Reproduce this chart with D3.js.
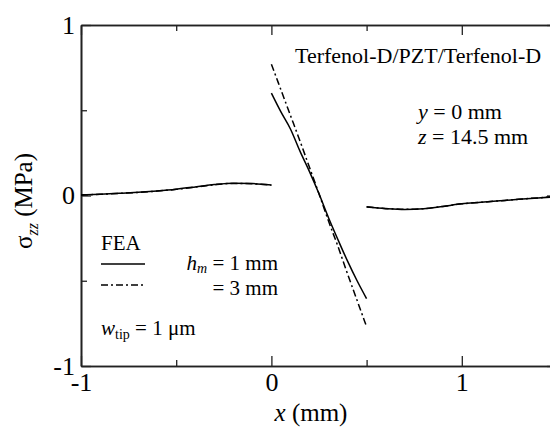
<!DOCTYPE html>
<html>
<head>
<meta charset="utf-8">
<script src="https://cdn.jsdelivr.net/npm/d3@7"></script>
<style>
  html, body { margin: 0; padding: 0; background: #fff; }
  svg { display: block; font-family: "Liberation Serif", "Times New Roman", serif; }
</style>
</head>
<body>
<svg id="chart" width="550" height="428"></svg>
<script>
// Stress sigma_zz along x for the Terfenol-D/PZT/Terfenol-D laminate (FEA)
// Three segments: left layer (-1..0), PZT (0..0.5), right layer (0.5..1.5)
const xLeft  = [-1, -0.9, -0.8, -0.7, -0.6, -0.5, -0.4, -0.3, -0.2, -0.1, 0];
const xMid   = [0, 0.05, 0.1, 0.15, 0.2, 0.25, 0.3, 0.35, 0.4, 0.45, 0.5];
const xRight = [0.5, 0.6, 0.7, 0.8, 0.9, 1.0, 1.1, 1.2, 1.3, 1.4, 1.5];

// h_m = 1 mm (solid)
const hm1Left  = [0.004, 0.008, 0.013, 0.019, 0.027, 0.037, 0.050, 0.064, 0.072, 0.070, 0.062];
const hm1Mid   = [0.60, 0.49, 0.39, 0.26, 0.14, 0.01, -0.13, -0.26, -0.385, -0.50, -0.605];
const hm1Right = [-0.068, -0.077, -0.082, -0.078, -0.064, -0.049, -0.040, -0.031, -0.022, -0.014, -0.007];

// h_m = 3 mm (dash-dot)
const hm3Left  = [0.002, 0.007, 0.012, 0.018, 0.026, 0.036, 0.049, 0.063, 0.071, 0.069, 0.060];
const hm3Mid   = [0.77, 0.62, 0.47, 0.32, 0.165, 0.01, -0.15, -0.30, -0.46, -0.615, -0.77];
const hm3Right = [-0.066, -0.076, -0.081, -0.077, -0.064, -0.049, -0.040, -0.031, -0.022, -0.014, -0.007];

const xMajor = [-1, 0, 1];
const xMinor = [-0.5, 0.5];
const yMajor = [-1, 0, 1];
const yMinor = [-0.5, 0.5];

const svg = d3.select("#chart");
const plotLeft = 81, plotTop = 25, plotBottom = 366, unit = 190.4;
const x = d3.scaleLinear().domain([-1, 1.5]).range([plotLeft, plotLeft + 2.5 * unit]);
const y = d3.scaleLinear().domain([-1, 1]).range([plotBottom, plotTop]);
const fmt = d => String(d);
const axisColor = "#222";

function styleAxis(g) {
  g.select(".domain").attr("stroke", axisColor).attr("stroke-width", 1.6);
  g.selectAll(".tick line").attr("stroke", axisColor).attr("stroke-width", 1.3);
  g.selectAll(".tick text").attr("fill", "#000").attr("font-size", 26)
    .attr("font-family", "Liberation Serif, Times New Roman, serif");
}

// bottom axis
svg.append("g").attr("transform", `translate(0,${plotBottom})`)
  .call(d3.axisBottom(x).tickValues(xMajor).tickFormat(fmt).tickSizeInner(-10).tickSizeOuter(0).tickPadding(7))
  .call(styleAxis);
svg.append("g").attr("transform", `translate(0,${plotBottom})`)
  .call(d3.axisBottom(x).tickValues(xMinor).tickFormat("").tickSizeInner(-6).tickSizeOuter(0))
  .call(styleAxis);
// top axis
svg.append("g").attr("transform", `translate(0,${plotTop})`)
  .call(d3.axisTop(x).tickValues(xMajor).tickFormat("").tickSizeInner(-10).tickSizeOuter(0))
  .call(styleAxis);
svg.append("g").attr("transform", `translate(0,${plotTop})`)
  .call(d3.axisTop(x).tickValues(xMinor).tickFormat("").tickSizeInner(-6).tickSizeOuter(0))
  .call(styleAxis);
// left axis
svg.append("g").attr("transform", `translate(${plotLeft},0)`)
  .call(d3.axisLeft(y).tickValues(yMajor).tickFormat(fmt).tickSizeInner(-10).tickSizeOuter(0).tickPadding(6))
  .call(styleAxis);
svg.append("g").attr("transform", `translate(${plotLeft},0)`)
  .call(d3.axisLeft(y).tickValues(yMinor).tickFormat("").tickSizeInner(-6).tickSizeOuter(0))
  .call(styleAxis);
// right axis
svg.append("g").attr("transform", `translate(${x(1.5)},0)`)
  .call(d3.axisRight(y).tickValues(yMajor).tickFormat("").tickSizeInner(-10).tickSizeOuter(0))
  .call(styleAxis);

// curves
const line = d3.line().x(d => x(d[0])).y(d => y(d[1])).curve(d3.curveMonotoneX);
const series = [
  { xs: xLeft, vs: hm3Left, dash: "7,3,2,3" },
  { xs: xMid, vs: hm3Mid, dash: "7,3,2,3" },
  { xs: xRight, vs: hm3Right, dash: "7,3,2,3" },
  { xs: xLeft, vs: hm1Left, dash: null },
  { xs: xMid, vs: hm1Mid, dash: null },
  { xs: xRight, vs: hm1Right, dash: null }
];
series.forEach(s => {
  svg.append("path")
    .datum(s.xs.map((v, i) => [v, s.vs[i]]))
    .attr("d", line)
    .attr("fill", "none")
    .attr("stroke", "#000")
    .attr("stroke-width", 1.5)
    .attr("stroke-dasharray", s.dash);
});

// axis titles
const xt = svg.append("text").attr("x", 311).attr("y", 421).attr("text-anchor", "middle")
  .attr("font-size", 25);
xt.append("tspan").attr("font-style", "italic").text("x");
xt.append("tspan").text(" (mm)");

const yt = svg.append("text").attr("transform", "translate(32,201) rotate(-90)")
  .attr("text-anchor", "middle").attr("font-size", 25);
yt.append("tspan").text("σ");
yt.append("tspan").attr("font-style", "italic").attr("font-size", 16).attr("dy", 6).text("zz");
yt.append("tspan").attr("dy", -6).text(" (MPa)");

// annotations
const ann = 22;
svg.append("text").attr("x", 295).attr("y", 63).attr("font-size", ann).text("Terfenol-D/PZT/Terfenol-D");
const t1 = svg.append("text").attr("x", 418).attr("y", 119).attr("font-size", ann);
t1.append("tspan").attr("font-style", "italic").text("y");
t1.append("tspan").text(" = 0 mm");
const t2 = svg.append("text").attr("x", 418).attr("y", 144).attr("font-size", ann);
t2.append("tspan").attr("font-style", "italic").text("z");
t2.append("tspan").text(" = 14.5 mm");

// legend
const leg = 21;
svg.append("text").attr("x", 101).attr("y", 250).attr("font-size", leg).text("FEA");
svg.append("line").attr("x1", 101).attr("x2", 145).attr("y1", 264).attr("y2", 264)
  .attr("stroke", "#000").attr("stroke-width", 1.5);
svg.append("line").attr("x1", 101).attr("x2", 145).attr("y1", 285).attr("y2", 285)
  .attr("stroke", "#000").attr("stroke-width", 1.5).attr("stroke-dasharray", "7,3,2,3");
const l1 = svg.append("text").attr("x", 278).attr("y", 270).attr("text-anchor", "end").attr("font-size", leg);
l1.append("tspan").attr("font-style", "italic").text("h");
l1.append("tspan").attr("font-style", "italic").attr("font-size", 14).attr("dy", 3).text("m");
l1.append("tspan").attr("dy", -3).text(" = 1 mm");
svg.append("text").attr("x", 278).attr("y", 295).attr("text-anchor", "end").attr("font-size", leg).text("= 3 mm");

const w = svg.append("text").attr("x", 101).attr("y", 335).attr("font-size", leg);
w.append("tspan").attr("font-style", "italic").text("w");
w.append("tspan").attr("font-size", 14).attr("dy", 4).text("tip");
w.append("tspan").attr("dy", -4).text(" = 1 μm");
</script>
</body>
</html>
